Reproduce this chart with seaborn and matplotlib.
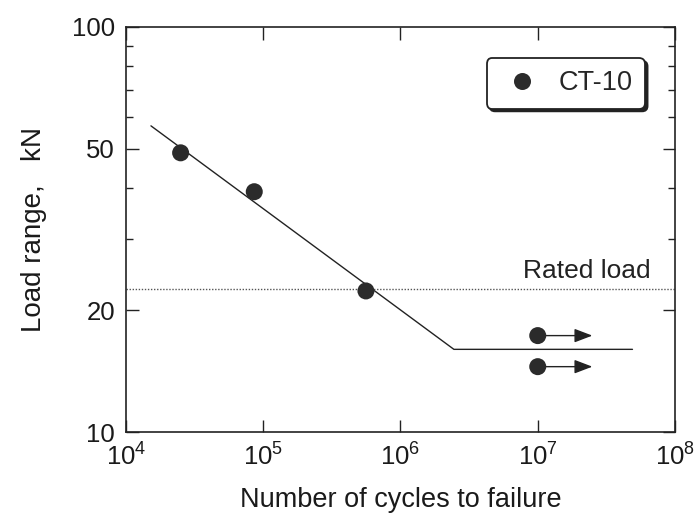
import matplotlib
matplotlib.use("Agg")
import matplotlib.pyplot as plt
import seaborn as sns
import pandas as pd
from matplotlib.ticker import FixedLocator, NullFormatter, NullLocator

# ---- data ----
cycles = [2.5e4, 8.6e4, 5.6e5, 1.0e7, 1.0e7]
load = [48.9, 39.2, 22.3, 17.3, 14.5]
runout = [False, False, False, True, True]
runout_end = 2.5e7
fit_cycles = [1.52e4, 2.45e6, 4.9e7]
fit_load = [57.0, 16.0, 16.0]
rated_load = 22.6
series_name = "CT-10"
y_ticks = [10, 20, 50, 100]
y_minor = [30, 40, 60, 70, 80, 90]
x_ticks = [1e4, 1e5, 1e6, 1e7, 1e8]

sns.set_style("ticks")
plt.rcParams["font.family"] = ["Liberation Sans", "DejaVu Sans"]
plt.rcParams["mathtext.fontset"] = "custom"
plt.rcParams["mathtext.rm"] = "Liberation Sans"
plt.rcParams["mathtext.it"] = "Liberation Sans"

fig = plt.figure(figsize=(6.95, 5.14), dpi=100)
ax = fig.add_axes([0.1813, 0.1595, 0.7899, 0.788])

df = pd.DataFrame({"cycles": cycles, "load": load, "series": series_name})
fit_df = pd.DataFrame({"cycles": fit_cycles, "load": fit_load})

ax.set_xscale("log")
ax.set_yscale("log")

sns.lineplot(data=fit_df, x="cycles", y="load", ax=ax, color="#222222",
             lw=1.0, sort=False, legend=False)
ax.axhline(rated_load, color="#555555", lw=1.0, ls=(0, (1, 1.2)))
sns.scatterplot(data=df, x="cycles", y="load", hue="series",
                palette=["#2b2b2b"], s=150, edgecolor="none", ax=ax, zorder=5)

for c, l, r in zip(cycles, load, runout):
    if r:
        ax.annotate("", xy=(runout_end, l), xytext=(c, l),
                    arrowprops=dict(arrowstyle="-|>,head_length=1.1,head_width=0.42",
                                    color="#222222", lw=1.0, shrinkA=0, shrinkB=0))

ax.annotate("Rated load", xy=(0.955, rated_load), xycoords=("axes fraction", "data"),
            xytext=(0, 4), textcoords="offset points", ha="right", va="bottom",
            fontsize=19, color="#222222")

ax.set_xlim(1e4, 1e8)
ax.set_ylim(10, 100)
ax.xaxis.set_major_locator(FixedLocator(x_ticks))
ax.xaxis.set_minor_locator(NullLocator())
ax.set_xticklabels([r"$10^{%d}$" % i for i in range(4, 9)])
ax.yaxis.set_major_locator(FixedLocator(y_ticks))
ax.yaxis.set_minor_locator(FixedLocator(y_minor))
ax.yaxis.set_minor_formatter(NullFormatter())
ax.set_yticklabels([str(v) for v in y_ticks])

ax.tick_params(which="both", direction="in", top=True, right=True,
               colors="#222222", labelsize=18.5, labelcolor="#1a1a1a")
ax.tick_params(which="major", length=9, width=1.0, pad=8)
ax.tick_params(which="minor", length=5, width=1.0)
for sp in ax.spines.values():
    sp.set_linewidth(1.2)
    sp.set_color("#222222")

ax.set_xlabel("Number of cycles to failure", fontsize=19.5, labelpad=12, color="#1a1a1a")
ax.set_ylabel("Load range,   kN", fontsize=20, labelpad=18, color="#1a1a1a")

leg = ax.legend(loc="upper right", bbox_to_anchor=(0.945, 0.923), borderaxespad=0,
                fontsize=19.5, frameon=True, fancybox=True, shadow={"color": "#222222", "alpha": 1},
                handletextpad=0.5, borderpad=0.45, markerscale=1.0, framealpha=1,
                handlelength=1.7)
leg.get_frame().set_edgecolor("#222222")
leg.get_frame().set_linewidth(1.3)

fig.savefig("out.png", dpi=100)
